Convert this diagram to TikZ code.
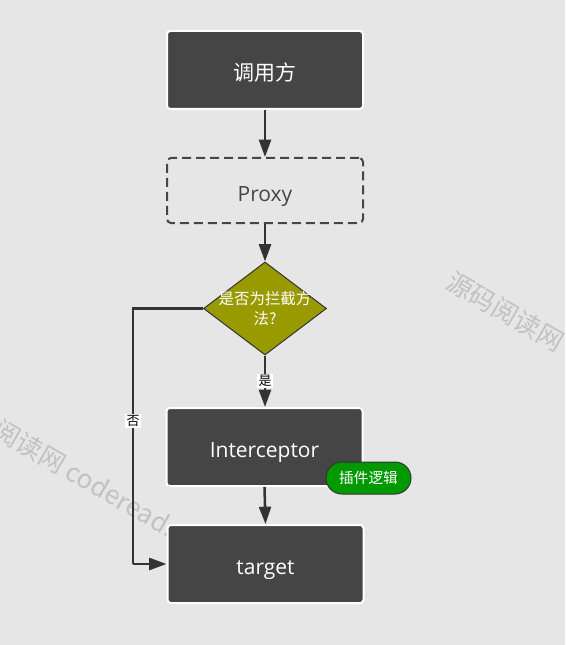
\documentclass[tikz,border=0pt]{standalone}
\usepackage{fontspec}
\setmainfont{Open Sans}
\newfontfamily\cjk{Noto Sans CJK SC}
\usetikzlibrary{shapes.geometric,arrows.meta}
\definecolor{bg}{HTML}{E6E6E6}
\definecolor{boxfill}{HTML}{454545}
\definecolor{linec}{HTML}{333333}
\definecolor{olive}{HTML}{999900}
\definecolor{pillgreen}{HTML}{009900}
\definecolor{wmgray}{HTML}{C2C2C2}
\tikzset{
  darkbox/.style={draw=white, line width=1.5pt, fill=boxfill, rounded corners=2.5pt,
    minimum width=147pt, minimum height=58.5pt, text=white, text height=16pt, text depth=0pt,
    font=\fontsize{15.75pt}{19pt}\selectfont},
  dashbox/.style={draw=boxfill, line width=1.5pt, dash pattern=on 6.75pt off 3.75pt, rounded corners=3pt,
    minimum width=147pt, minimum height=48.75pt, text=boxfill, text height=16pt, text depth=0pt,
    font=\fontsize{15.75pt}{19pt}\selectfont},
  decision/.style={diamond, draw=linec, line width=0.75pt, fill=olive, inner sep=0pt,
    minimum width=92.25pt, minimum height=69.75pt},
  dectext/.style={text=white, align=center, font=\cjk\fontsize{11.6pt}{15pt}\selectfont},
  flow/.style={draw=linec, line width=1.9pt, -{Triangle[length=13pt,width=9pt]}},
  plain/.style={draw=linec, line width=1.9pt},
  lbl/.style={fill=white, text=black, inner sep=1pt, font=\cjk\fontsize{9.75pt}{11pt}\selectfont},
  pill/.style={draw=linec, line width=0.75pt, fill=pillgreen, rounded corners=12pt,
    minimum width=63.75pt, minimum height=24pt, text=white, font=\cjk\fontsize{11pt}{13pt}\selectfont},
  watermark/.style={text=wmgray, inner sep=0pt, rotate=-30, font=\cjk\fontsize{19.5pt}{22pt}\selectfont}
}
\begin{document}
\begin{tikzpicture}[x=0.75pt,y=-0.75pt]
\useasboundingbox (0,0) rectangle (565,645);
\fill[bg] (0,0) rectangle (565,645);
\begin{scope}
  \clip (0,0) rectangle (565,645);
  \node[watermark] (wm1) at (505.5,311.5) {源码阅读网};
  \node[watermark, anchor=west] (wm2) at (-49,401) {源码阅读网 coderead.cn};
\end{scope}

\node[darkbox] (caller) at (265,70) {\cjk 调用方};
\node[dashbox] (proxy) at (265,190.5) {Proxy};
\node[decision, label={[dectext]center:是否为拦截方\\法?}] (dec) at (265,308.5) {};
\node[darkbox] (inter) at (264.5,447) {Interceptor};
\node[darkbox] (target) at (265.5,564) {target};
\node[pill] (plugin) at (368.5,478) {插件逻辑};

\coordinate (n1) at (133,308.5);
\coordinate (n2) at (133,564);

\draw[flow] (caller.south) -- (proxy.north);
\draw[flow] (proxy.south) -- (dec.north);
\draw[flow] (dec.south) -- node[lbl, pos=0.5] {是} (dec.south |- inter.north);
\draw[flow] (inter.south) -- (target.north);
\draw[plain] (dec.west) -- (n1) -- node[lbl, pos=0.44] {否} (n2);
\draw[flow] (n2) -- (target.west);
\end{tikzpicture}
\end{document}
